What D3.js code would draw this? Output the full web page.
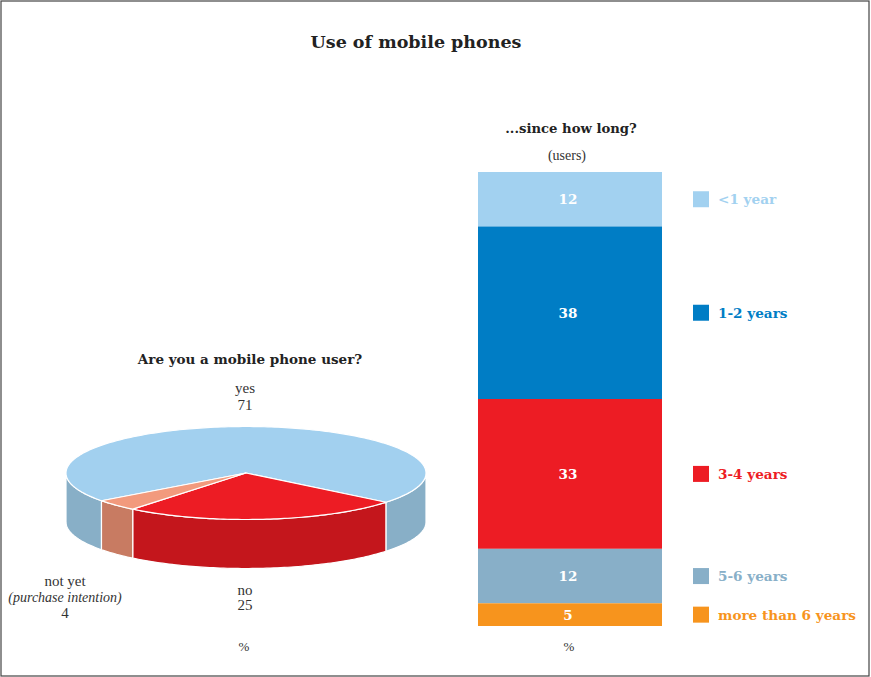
<!DOCTYPE html>
<html><head><meta charset="utf-8">
<script src="https://cdn.jsdelivr.net/npm/d3@7"></script>
<style>body{margin:0;background:#fff}svg{display:block}</style>
</head><body>
<svg id="c" width="871" height="677"></svg>
<script>
// ---- data ----
const title = "Use of mobile phones";
const pieTitle = "Are you a mobile phone user?";
const pieCategories = ["yes", "no", "not yet"];
const pieValues = [71, 25, 4];
const barTitle = "...since how long?";
const barSubtitle = "(users)";
const barCategories = ["<1 year", "1-2 years", "3-4 years", "5-6 years", "more than 6 years"];
const barValues = [12, 38, 33, 12, 5];
const unitLabel = "%";

// ---- styles ----
const pieTop = ["#A2D0EF", "#ED1C24", "#F29A7D"];
const pieSide = ["#88AFC7", "#C4161C", "#C87B62"];
const barColors = ["#A2D1F0", "#007DC5", "#ED1C24", "#88AFC8", "#F7941D"];
const serif = "Liberation Serif, DejaVu Serif, serif";
const boldSerif = "DejaVu Serif, serif";

const svg = d3.select("#c");
svg.append("rect").attr("x", 1).attr("y", 1).attr("width", 868).attr("height", 675)
  .attr("fill", "#fff").attr("stroke", "#444").attr("stroke-width", 1.2);

svg.append("text").attr("x", 416).attr("y", 48).attr("text-anchor", "middle")
  .attr("font-family", boldSerif).attr("font-weight", "bold").attr("font-size", 17.5)
  .attr("fill", "#222").text(title);

// ---- 3D pie ----
const cx = 246, cy = 473, rx = 180, ry = 46.5, depth = 49;
const pt = (phi, dy = 0) => [cx + rx * Math.cos(phi), cy + ry * Math.sin(phi) + dy];
const arcPts = (a0, a1, dy = 0) => {
  const n = Math.max(2, Math.ceil(Math.abs(a1 - a0) / 0.02));
  return d3.range(n + 1).map(i => pt(a0 + (a1 - a0) * i / n, dy));
};
const line = d3.line();
const deg = Math.PI / 180;
// d3.pie angles: clockwise from 12 o'clock; screen angle phi = a - 90deg
const start = -126.6 * deg;
const arcs = d3.pie().sort(null).startAngle(start).endAngle(start + 2 * Math.PI)(pieValues);

const g = svg.append("g");
arcs.forEach((d, i) => {
  const p0 = d.startAngle - Math.PI / 2, p1 = d.endAngle - Math.PI / 2;
  [-2, 0, 2].forEach(k => {
    const lo = Math.max(p0, k * Math.PI), hi = Math.min(p1, k * Math.PI + Math.PI);
    if (hi > lo) {
      const top = arcPts(lo, hi), bot = arcPts(hi, lo, depth);
      g.append("path").attr("d", line(top.concat(bot)) + "Z")
        .attr("fill", pieSide[i]).attr("stroke", "#fff").attr("stroke-width", 1.2)
        .attr("stroke-linejoin", "round");
    }
  });
});
arcs.forEach((d, i) => {
  const p0 = d.startAngle - Math.PI / 2, p1 = d.endAngle - Math.PI / 2;
  g.append("path").attr("d", line([[cx, cy]].concat(arcPts(p0, p1))) + "Z")
    .attr("fill", pieTop[i]).attr("stroke", "#fff").attr("stroke-width", 1.2)
    .attr("stroke-linejoin", "round");
});

svg.append("text").attr("x", 250).attr("y", 364).attr("text-anchor", "middle")
  .attr("font-family", boldSerif).attr("font-weight", "bold").attr("font-size", 13.5)
  .attr("fill", "#222").text(pieTitle);

const lbl = (x, y, t, italic) => svg.append("text").attr("x", x).attr("y", y)
  .attr("text-anchor", "middle").attr("font-family", serif).attr("font-size", 15)
  .attr("font-style", italic ? "italic" : "normal").attr("fill", "#333").text(t);
lbl(245, 393, pieCategories[0]);
lbl(245, 410, String(pieValues[0]));
lbl(245, 595, pieCategories[1]);
lbl(245, 610, String(pieValues[1]));
lbl(65, 586, pieCategories[2]);
lbl(65, 602, "(purchase intention)", true).attr("font-size", 14);
lbl(65, 618, String(pieValues[2]));
lbl(244, 651, unitLabel).attr("font-size", 13);

// ---- stacked bar ----
const y = d3.scaleLinear().domain([0, d3.sum(barValues)]).range([172, 626]);
const bx0 = 478, bx1 = 662;
let cum = 0;
const segs = barValues.map((v, i) => { const s = { v, i, y0: cum, y1: cum + v }; cum += v; return s; });
const bg = svg.append("g");
segs.forEach(s => {
  bg.append("rect").attr("x", bx0).attr("width", bx1 - bx0)
    .attr("y", y(s.y0)).attr("height", y(s.y1) - y(s.y0)).attr("fill", barColors[s.i]);
  const mid = (y(s.y0) + y(s.y1)) / 2;
  bg.append("text").attr("x", (bx0 + bx1) / 2 - 2).attr("y", mid).attr("dy", "0.36em")
    .attr("text-anchor", "middle").attr("font-family", boldSerif).attr("font-weight", "bold")
    .attr("font-size", 13.5).attr("fill", "#fff").text(s.v);
  bg.append("rect").attr("x", 693).attr("y", mid - 8).attr("width", 16).attr("height", 16)
    .attr("fill", barColors[s.i]);
  bg.append("text").attr("x", 718).attr("y", mid).attr("dy", "0.38em")
    .attr("font-family", boldSerif).attr("font-weight", "bold").attr("font-size", 13.6)
    .attr("fill", barColors[s.i]).text(barCategories[s.i]);
});

svg.append("text").attr("x", 571).attr("y", 133).attr("text-anchor", "middle")
  .attr("font-family", boldSerif).attr("font-weight", "bold").attr("font-size", 13.2)
  .attr("fill", "#222").text(barTitle);
lbl(567, 160, barSubtitle).attr("font-size", 14);
lbl(569, 651, unitLabel).attr("font-size", 13);
</script>
</body></html>
